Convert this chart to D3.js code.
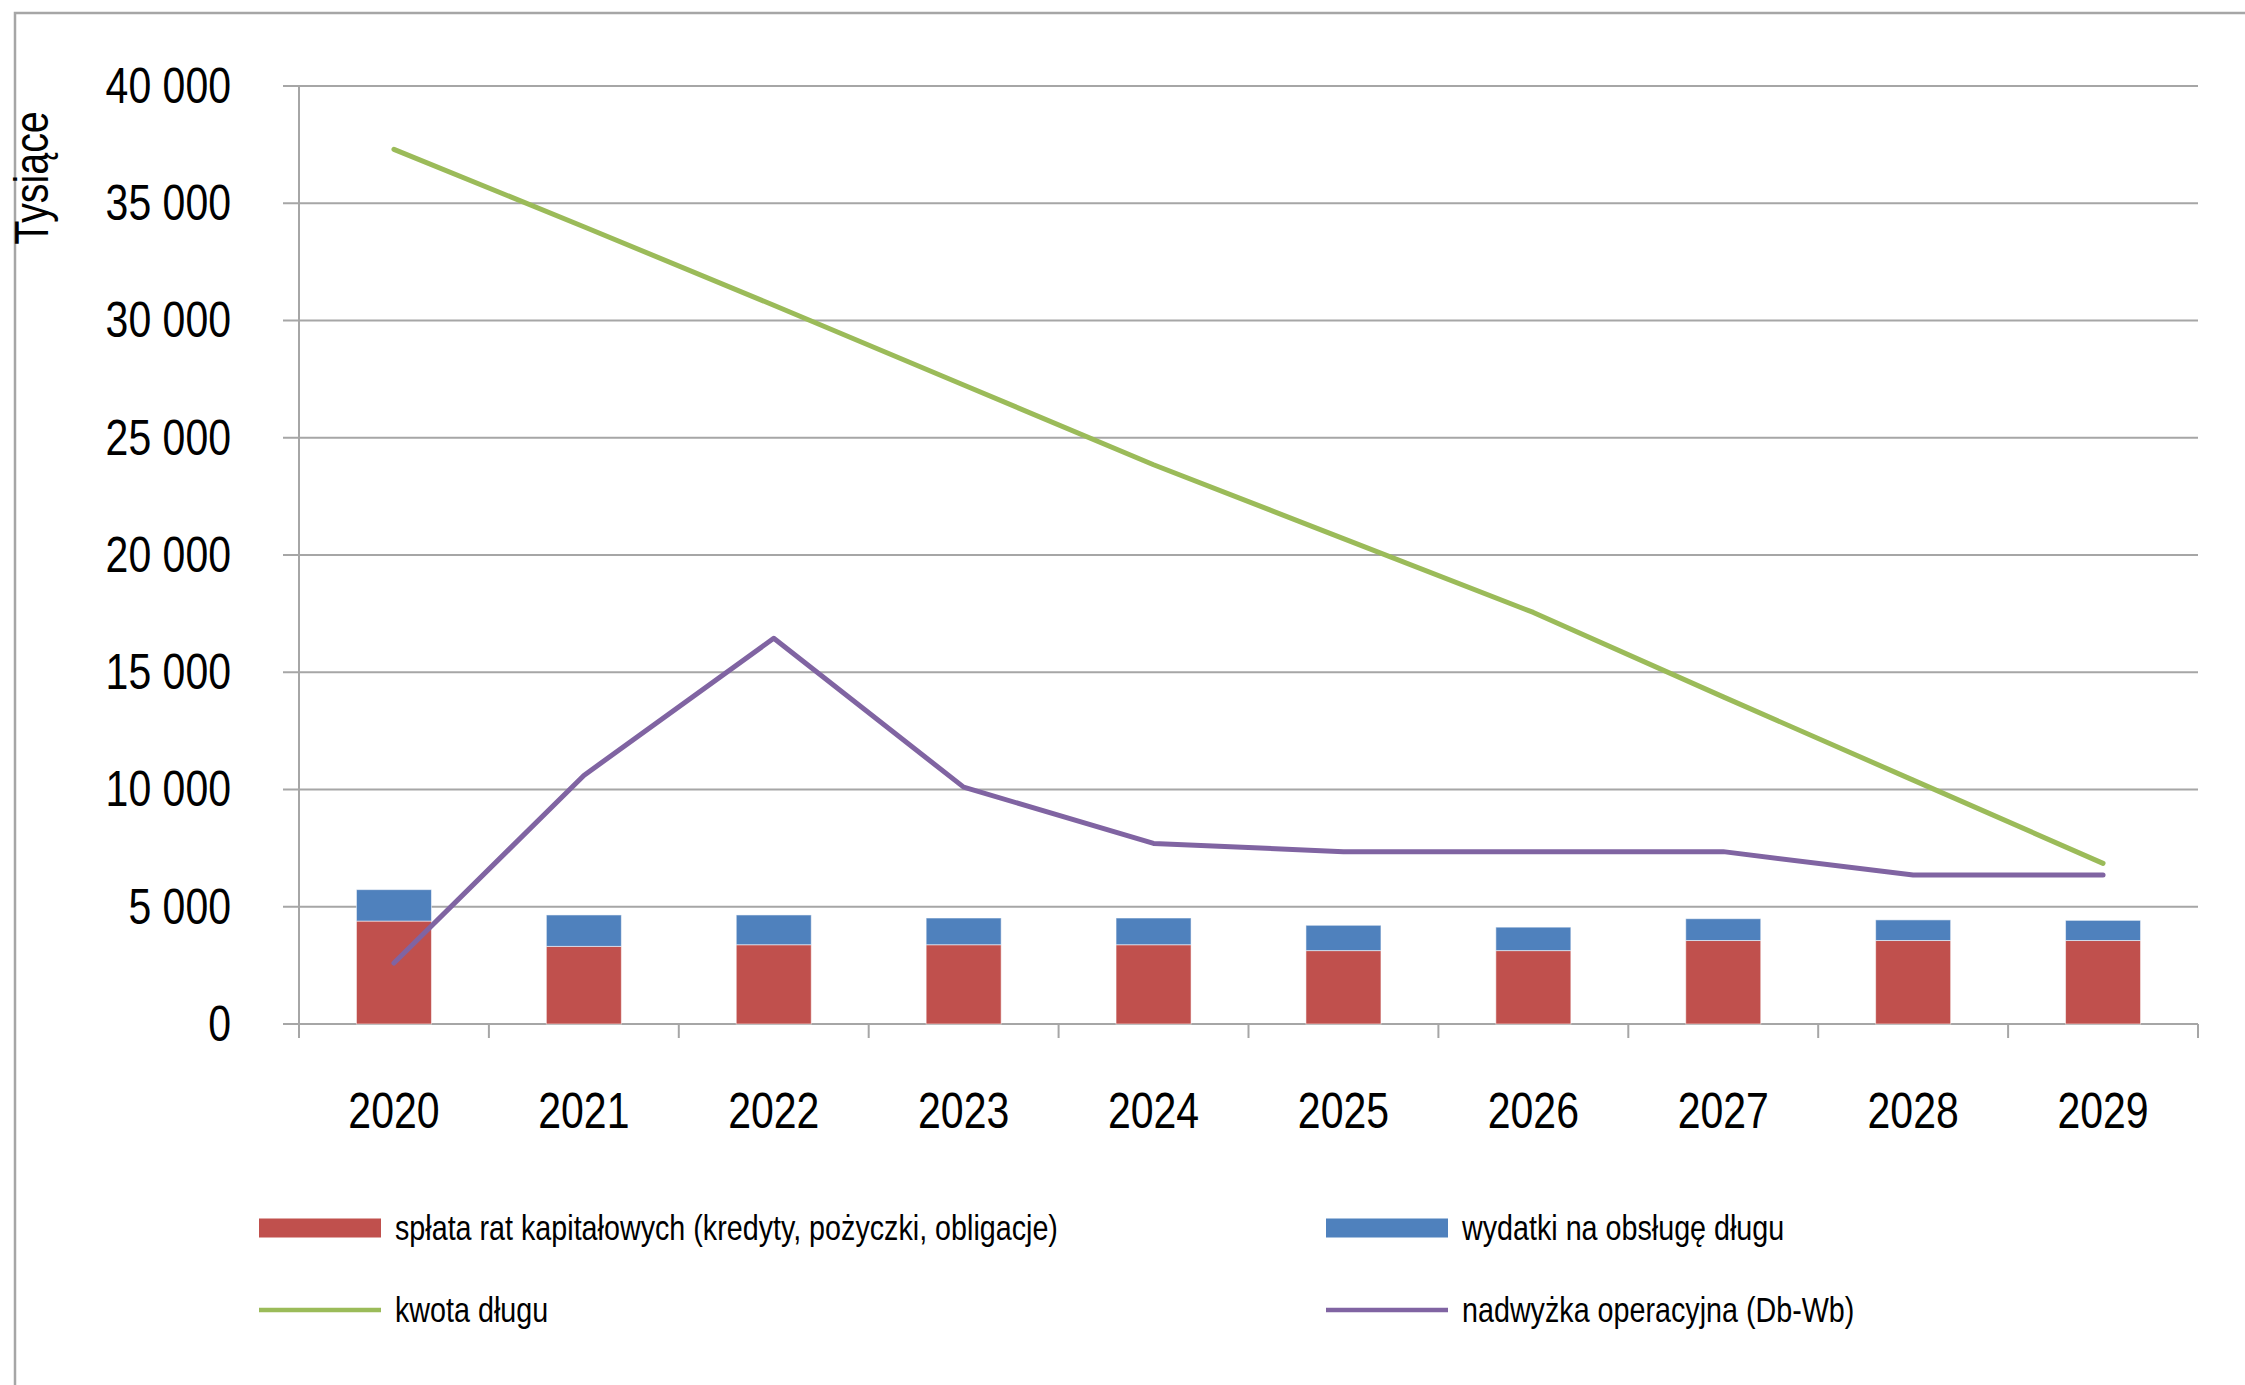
<!DOCTYPE html>
<html>
<head>
<meta charset="utf-8">
<script src="https://cdn.jsdelivr.net/npm/d3@7"></script>
<style>
  html, body { margin: 0; padding: 0; background: #fff; }
  svg { display: block; }
</style>
</head>
<body>
<svg id="chart" width="2245" height="1385"></svg>
<script>
// ---- data ----
const years = ["2020","2021","2022","2023","2024","2025","2026","2027","2028","2029"];
const splataRat = [4390, 3310, 3380, 3380, 3380, 3130, 3130, 3560, 3560, 3560];
const wydatkiObslugi = [1340, 1340, 1270, 1140, 1140, 1080, 1000, 930, 880, 860];
const kwotaDlugu = [37300, 34000, 30650, 27250, 23850, 20700, 17550, 13950, 10400, 6850];
const nadwyzka = [2600, 10600, 16450, 10100, 7700, 7350, 7350, 7350, 6350, 6350];
const yTicks = [0, 5000, 10000, 15000, 20000, 25000, 30000, 35000, 40000];
const yTickLabels = ["0", "5 000", "10 000", "15 000", "20 000", "25 000", "30 000", "35 000", "40 000"];
const yTitle = "Tysiące";
const legendLabels = [
  "spłata rat kapitałowych (kredyty, pożyczki, obligacje)",
  "wydatki na obsługę długu",
  "kwota długu",
  "nadwyżka operacyjna (Db-Wb)"
];
const colors = { red: "#C0504D", blue: "#4F81BD", green: "#9BBB59", purple: "#8064A2", grid: "#a6a6a6" };

// ---- font detection (narrow Arial-like) ----
function hasFont(name) {
  const c = document.createElement("canvas").getContext("2d");
  const s = "spłata rat 2020 40 000";
  c.font = "50px monospace"; const a = c.measureText(s).width;
  c.font = "50px '" + name + "', monospace"; const b = c.measureText(s).width;
  return Math.abs(a - b) > 0.5;
}
const narrowAvail = hasFont("Liberation Sans Narrow");
const FONT = narrowAvail ? "'Liberation Sans Narrow', 'Arial Narrow'" : "'Liberation Sans', Arial, sans-serif";
const SX = narrowAvail ? 1 : 0.82;

const svg = d3.select("#chart");

function addText(g, x, y, str, opts) {
  return g.append("text")
    .attr("transform", `translate(${x},${y})${opts.rotate ? " rotate(" + opts.rotate + ")" : ""} scale(${SX},1)`)
    .attr("font-family", FONT)
    .attr("font-size", opts.size)
    .attr("fill", "#000")
    .attr("text-anchor", opts.anchor || "start")
    .attr("dominant-baseline", opts.baseline || "alphabetic")
    .text(str);
}

// frame (extends past right/bottom edge)
svg.append("rect").attr("x", 15).attr("y", 13).attr("width", 2400).attr("height", 1500)
  .attr("fill", "none").attr("stroke", colors.grid).attr("stroke-width", 2.5);

const plot = { left: 299, right: 2198, top: 86, bottom: 1024 };
const x = d3.scaleBand().domain(years).range([plot.left, plot.right]).padding(0);
const y = d3.scaleLinear().domain([0, 40000]).range([plot.bottom, plot.top]);
const barW = x.bandwidth() * 0.395;

const g = svg.append("g");
g.selectAll("line.grid").data(yTicks).join("line")
  .attr("class", "grid")
  .attr("x1", plot.left - 16).attr("x2", plot.right)
  .attr("y1", d => y(d)).attr("y2", d => y(d))
  .attr("stroke", colors.grid).attr("stroke-width", 2);

g.append("line").attr("x1", plot.left).attr("x2", plot.left)
  .attr("y1", plot.top).attr("y2", plot.bottom)
  .attr("stroke", colors.grid).attr("stroke-width", 2);

const xTickPos = years.map(d => x(d)).concat([x(years[years.length - 1]) + x.bandwidth()]);
g.selectAll("line.xt").data(xTickPos).join("line")
  .attr("class", "xt")
  .attr("x1", d => d).attr("x2", d => d)
  .attr("y1", plot.bottom).attr("y2", plot.bottom + 14)
  .attr("stroke", colors.grid).attr("stroke-width", 2);

yTicks.forEach((v, i) => addText(svg, 231, y(v), yTickLabels[i], { size: 50, anchor: "end", baseline: "central" }));
years.forEach(yr => addText(svg, x(yr) + x.bandwidth() / 2, 1128, yr, { size: 50, anchor: "middle" }));
addText(svg, 48, 178, yTitle, { size: 48, anchor: "middle", rotate: -90 });

// stacked bars
const stackData = years.map((yr, i) => ({ year: yr, splata: splataRat[i], wydatki: wydatkiObslugi[i] }));
const stack = d3.stack().keys(["splata", "wydatki"])(stackData);
const barColors = { splata: colors.red, wydatki: colors.blue };
svg.append("g").selectAll("g").data(stack).join("g")
  .attr("fill", d => barColors[d.key])
  .selectAll("rect").data(d => d).join("rect")
  .attr("x", d => x(d.data.year) + (x.bandwidth() - barW) / 2)
  .attr("width", barW)
  .attr("y", d => y(d[1]))
  .attr("height", d => y(d[0]) - y(d[1]))
  .attr("stroke", "rgba(255,255,255,0.55)").attr("stroke-width", 1);

// lines
const line = d3.line().x((d, i) => x(years[i]) + x.bandwidth() / 2).y(d => y(d));
svg.append("path").datum(kwotaDlugu).attr("d", line)
  .attr("fill", "none").attr("stroke", colors.green).attr("stroke-width", 5)
  .attr("stroke-linecap", "round").attr("stroke-linejoin", "round");
svg.append("path").datum(nadwyzka).attr("d", line)
  .attr("fill", "none").attr("stroke", colors.purple).attr("stroke-width", 5)
  .attr("stroke-linecap", "round").attr("stroke-linejoin", "round");

// legend
const legend = svg.append("g");
const legItems = [
  { type: "rect", color: colors.red, x: 259, y: 1228, label: legendLabels[0] },
  { type: "rect", color: colors.blue, x: 1326, y: 1228, label: legendLabels[1] },
  { type: "line", color: colors.green, x: 259, y: 1310, label: legendLabels[2] },
  { type: "line", color: colors.purple, x: 1326, y: 1310, label: legendLabels[3] }
];
legItems.forEach(it => {
  if (it.type === "rect") {
    legend.append("rect").attr("x", it.x).attr("y", it.y - 9.5).attr("width", 122).attr("height", 19).attr("fill", it.color);
  } else {
    legend.append("line").attr("x1", it.x).attr("x2", it.x + 122).attr("y1", it.y).attr("y2", it.y)
      .attr("stroke", it.color).attr("stroke-width", 4.5);
  }
  addText(legend, it.x + 136, it.y, it.label, { size: 35, baseline: "central" });
});
</script>
</body>
</html>
